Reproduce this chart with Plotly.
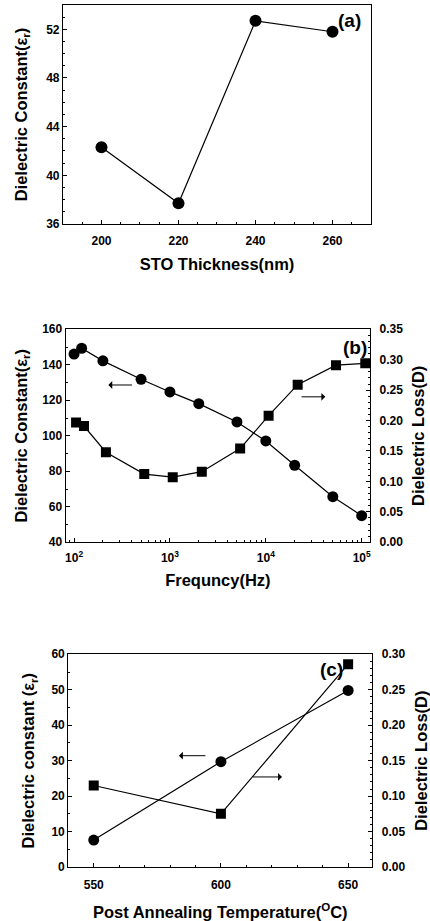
import plotly.graph_objects as go

# Panel (a)
thick_nm = [200, 220, 240, 260]
eps_a = [42.3, 37.7, 52.7, 51.8]

# Panel (b)
freq_eps = [100, 120, 200, 500, 1000, 2000, 5000, 10000, 20000, 50000, 100000]
eps_b = [146.0, 149.3, 142.2, 131.8, 124.7, 118.1, 107.8, 97.1, 83.4, 65.7, 55.0]
freq_loss = [105, 127, 215, 540, 1070, 2150, 5400, 10700, 21500, 54000, 109000]
loss_b = [0.197, 0.191, 0.148, 0.112, 0.107, 0.116, 0.154, 0.208, 0.259, 0.291, 0.294]
freq_ticks = [100, 1000, 10000, 100000]
freq_ticktext = ["10<sup>2</sup>", "10<sup>3</sup>", "10<sup>4</sup>", "10<sup>5</sup>"]

# Panel (c)
anneal_C = [550, 600, 650]
eps_c = [7.6, 29.7, 49.8]
loss_c = [0.115, 0.075, 0.286]

FONT = "Liberation Sans, Arial, sans-serif"
BLACK = "#000000"

fig = go.Figure()

line = dict(color=BLACK, width=1.2)
fig.add_trace(go.Scatter(x=thick_nm, y=eps_a, mode="lines+markers", line=line,
                         marker=dict(symbol="circle", size=12, color=BLACK),
                         xaxis="x", yaxis="y", showlegend=False))
fig.add_trace(go.Scatter(x=freq_eps, y=eps_b, mode="lines+markers", line=line,
                         marker=dict(symbol="circle", size=11, color=BLACK),
                         xaxis="x2", yaxis="y2", showlegend=False))
fig.add_trace(go.Scatter(x=freq_loss, y=loss_b, mode="lines+markers", line=line,
                         marker=dict(symbol="square", size=10, color=BLACK),
                         xaxis="x2", yaxis="y3", showlegend=False))
fig.add_trace(go.Scatter(x=anneal_C, y=eps_c, mode="lines+markers", line=line,
                         marker=dict(symbol="circle", size=11, color=BLACK),
                         xaxis="x3", yaxis="y4", showlegend=False))
fig.add_trace(go.Scatter(x=anneal_C, y=loss_c, mode="lines+markers", line=line,
                         marker=dict(symbol="square", size=10, color=BLACK),
                         xaxis="x3", yaxis="y5", showlegend=False))

tickfont = dict(family=FONT, size=12, color=BLACK, weight="bold")
titlefont = dict(family=FONT, size=16.5, color=BLACK, weight="bold")

def ax(**kw):
    base = dict(showline=True, linecolor=BLACK, linewidth=1.2, mirror=False,
                ticks="inside", ticklen=4, tickcolor=BLACK, tickwidth=1,
                showgrid=False, zeroline=False, tickfont=tickfont,
                title_font=titlefont, automargin=False)
    base.update(kw)
    return base

fig.update_layout(
    width=430, height=921, margin=dict(l=0, r=0, t=0, b=0),
    paper_bgcolor="white", plot_bgcolor="white",
    font=dict(family=FONT, color=BLACK),
    # panel a
    xaxis=ax(domain=[0.1465, 0.8628], anchor="y", range=[190, 270],
             tickvals=thick_nm, mirror=True, ticklabelstandoff=6,
             minor=dict(ticks="inside", ticklen=2, dtick=5, tickcolor=BLACK),
             title=dict(text="STO Thickness(nm)", standoff=10)),
    yaxis=ax(domain=[0.7568, 0.9946], anchor="x", range=[36, 54],
             tickvals=[36, 40, 44, 48, 52], mirror=True,
             minor=dict(ticks="inside", ticklen=2, dtick=1, tickcolor=BLACK),
             title=dict(text="Dielectric Constant(ε<sub>r</sub>)", standoff=14)),
    # panel b
    xaxis2=ax(domain=[0.1528, 0.8605], anchor="y2", type="log",
              range=[1.913, 5.087], tickvals=freq_ticks, ticktext=freq_ticktext,
              mirror=True, ticklabelstandoff=4,
              minor=dict(ticks="inside", ticklen=2, tickcolor=BLACK, dtick="D1"),
              title=dict(text="Frequncy(Hz)", standoff=10)),
    yaxis2=ax(domain=[0.4112, 0.6425], anchor="x2", range=[40, 160],
              tickvals=[40, 60, 80, 100, 120, 140, 160],
              minor=dict(ticks="inside", ticklen=2, dtick=10, tickcolor=BLACK),
              title=dict(text="Dielectric Constant(ε<sub>r</sub>)", standoff=10)),
    yaxis3=ax(domain=[0.4112, 0.6425], anchor="x2", overlaying="y2", side="right",
              range=[0, 0.35], tickvals=[0, 0.05, 0.1, 0.15, 0.2, 0.25, 0.3, 0.35],
              tickformat=".2f", ticklabelstandoff=6,
              minor=dict(ticks="inside", ticklen=2, dtick=0.01, tickcolor=BLACK),
              title=dict(text="Dielectric Loss(D)", standoff=10)),
    # panel c
    xaxis3=ax(domain=[0.1588, 0.8658], anchor="y4", range=[540, 659.5],
              tickvals=anneal_C, mirror=True, ticklabelstandoff=6,
              minor=dict(ticks="inside", ticklen=2, dtick=10, tickcolor=BLACK),
              title=dict(text="Post Annealing Temperature(<sup>O</sup>C)", standoff=16)),
    yaxis4=ax(domain=[0.0586, 0.2896], anchor="x3", range=[0, 60],
              tickvals=[0, 10, 20, 30, 40, 50, 60],
              minor=dict(ticks="inside", ticklen=2, dtick=5, tickcolor=BLACK),
              title=dict(text="Dielectric constant (ε<sub>r</sub>)", standoff=12)),
    yaxis5=ax(domain=[0.0586, 0.2896], anchor="x3", overlaying="y4", side="right",
              range=[0, 0.30], tickvals=[0, 0.05, 0.1, 0.15, 0.2, 0.25, 0.3],
              tickformat=".2f", ticklabelstandoff=6,
              minor=dict(ticks="inside", ticklen=2, dtick=0.01, tickcolor=BLACK),
              title=dict(text="Dielectric Loss(D)", standoff=12)),
)

labfont = dict(family=FONT, size=19, color=BLACK, weight="bold")

def arr(x, y, x0, xref, yref):
    return dict(x=x, y=y, xref=xref, yref=yref, ax=x0, ay=y, axref=xref, ayref=yref,
                text="", showarrow=True, arrowhead=1, arrowsize=1.3, arrowwidth=1,
                arrowcolor=BLACK)

annots = [
    dict(x=264.3, y=52.7, xref="x", yref="y", text="(a)", showarrow=False, font=labfont),
    dict(x=4.93, y=150, xref="x2", yref="y2", text="(b)", showarrow=False, font=labfont),
    dict(x=643.3, y=0.278, xref="x3", yref="y5", text="(c)", showarrow=False, font=labfont),
    # arrows panel b
    arr(2.358, 128.6, 2.62, "x2", "y2"),
    arr(4.62, 0.239, 4.358, "x2", "y3"),
    # arrows panel c
    arr(583.5, 31.4, 594.5, "x3", "y4"),
    arr(624, 0.127, 612, "x3", "y5"),
]
fig.update_layout(annotations=annots)

fig.write_html("out.html")
